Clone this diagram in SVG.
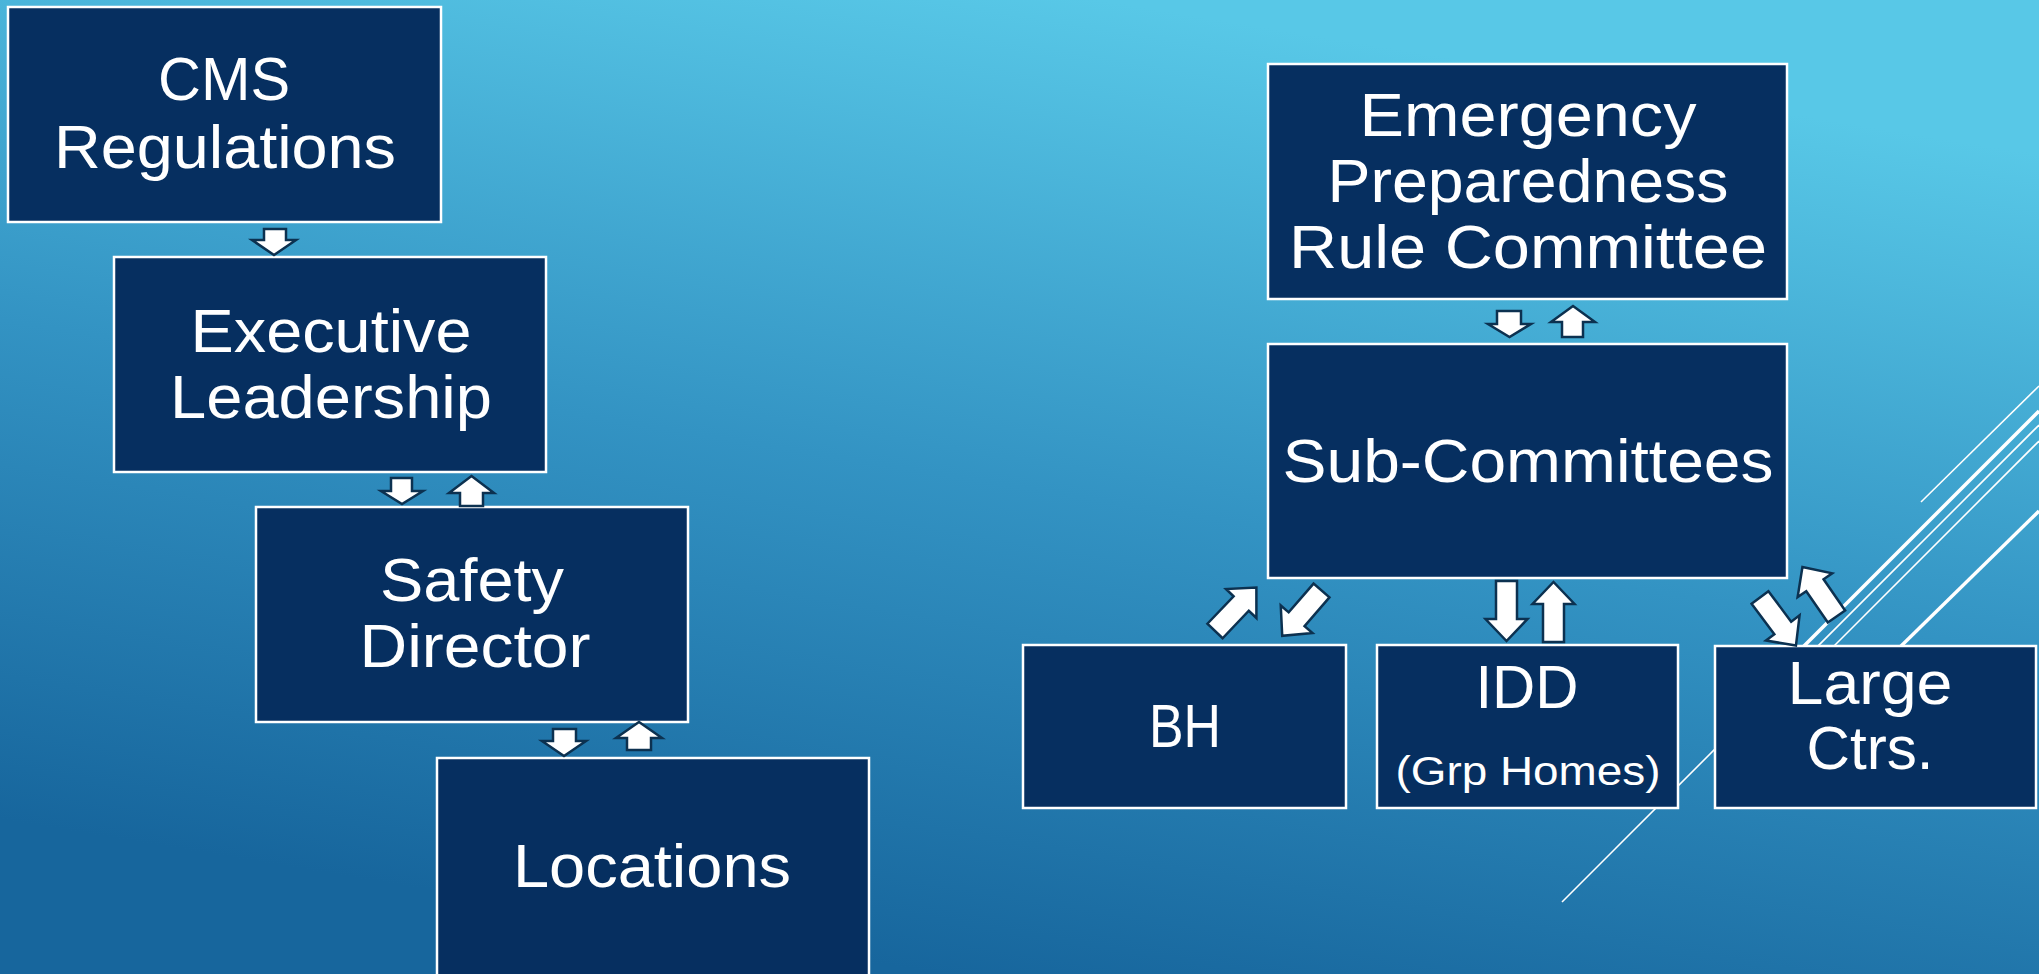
<svg xmlns="http://www.w3.org/2000/svg" xmlns:xlink="http://www.w3.org/1999/xlink" width="2039" height="974" viewBox="0 0 2039 974">
  <defs>
    <linearGradient id="bg" gradientUnits="userSpaceOnUse" x1="1100" y1="0" x2="940" y2="974">
      <stop offset="0" stop-color="#58C8E7"/>
      <stop offset="0.5" stop-color="#3393C3"/>
      <stop offset="1" stop-color="#17669D"/>
    </linearGradient>
    <path id="bigArrow" d="M0,-10.5 H38 V-21 L60,0 L38,21 V10.5 H0 Z"/>
  </defs>
  <style>
    .box { fill: #062F60; stroke: #FFFFFF; stroke-width: 2.5; }
    .lbl { fill: #FFFFFF; font-family: "Liberation Sans", Arial, sans-serif; font-size: 62px; text-anchor: middle; }
    .sm { font-size: 40px; }
    .arr { fill: #FFFFFF; stroke: #0C3150; stroke-width: 2.5; stroke-linejoin: miter; }
    .deco { stroke: #FFFFFF; fill: none; }
    .thin { stroke-width: 1.6; }
    .thick { stroke-width: 3.5; }
  </style>
  <rect x="0" y="0" width="2039" height="974" fill="url(#bg)"/>

  <g id="decoration">
    <line class="deco thin" x1="1921" y1="502" x2="2039" y2="386"/>
    <line class="deco thick" x1="1760" y1="690" x2="2039" y2="411"/>
    <line class="deco thin" x1="1562" y1="902" x2="2039" y2="425"/>
    <line class="deco thin" x1="1800" y1="680" x2="2039" y2="441"/>
    <line class="deco thick" x1="1850" y1="696" x2="2039" y2="511"/>
  </g>

  <g id="node-cms">
    <rect class="box" x="8" y="7" width="433" height="215"/>
    <text class="lbl" x="224" y="100" textLength="132" lengthAdjust="spacingAndGlyphs">CMS</text>
    <text class="lbl" x="225" y="168" textLength="342" lengthAdjust="spacingAndGlyphs">Regulations</text>
  </g>
  <g id="node-executive">
    <rect class="box" x="114" y="257" width="432" height="215"/>
    <text class="lbl" x="331" y="352" textLength="281" lengthAdjust="spacingAndGlyphs">Executive</text>
    <text class="lbl" x="331" y="418" textLength="322" lengthAdjust="spacingAndGlyphs">Leadership</text>
  </g>
  <g id="node-safety">
    <rect class="box" x="256" y="507" width="432" height="215"/>
    <text class="lbl" x="472" y="601" textLength="184" lengthAdjust="spacingAndGlyphs">Safety</text>
    <text class="lbl" x="475" y="667" textLength="231" lengthAdjust="spacingAndGlyphs">Director</text>
  </g>
  <g id="node-locations">
    <rect class="box" x="437" y="758" width="432" height="222"/>
    <text class="lbl" x="652" y="887" textLength="278" lengthAdjust="spacingAndGlyphs">Locations</text>
  </g>

  <g id="node-ep">
    <rect class="box" x="1268" y="64" width="519" height="235"/>
    <text class="lbl" x="1528" y="136" textLength="337" lengthAdjust="spacingAndGlyphs">Emergency</text>
    <text class="lbl" x="1528" y="202" textLength="401" lengthAdjust="spacingAndGlyphs">Preparedness</text>
    <text class="lbl" x="1528" y="268" textLength="478" lengthAdjust="spacingAndGlyphs">Rule Committee</text>
  </g>
  <g id="node-sub">
    <rect class="box" x="1268" y="344" width="519" height="234"/>
    <text class="lbl" x="1528" y="482" textLength="491" lengthAdjust="spacingAndGlyphs">Sub-Committees</text>
  </g>
  <g id="node-bh">
    <rect class="box" x="1023" y="645" width="323" height="163"/>
    <text class="lbl" x="1185" y="747" textLength="72" lengthAdjust="spacingAndGlyphs">BH</text>
  </g>
  <g id="node-idd">
    <rect class="box" x="1377" y="645" width="301" height="163"/>
    <text class="lbl" x="1527" y="708" textLength="103" lengthAdjust="spacingAndGlyphs">IDD</text>
    <text class="lbl sm" x="1528" y="785" textLength="265" lengthAdjust="spacingAndGlyphs">(Grp Homes)</text>
  </g>
  <g id="node-large">
    <rect class="box" x="1715" y="646" width="321" height="162"/>
    <text class="lbl" x="1870" y="704" textLength="165" lengthAdjust="spacingAndGlyphs">Large</text>
    <text class="lbl" x="1870" y="769" textLength="127" lengthAdjust="spacingAndGlyphs">Ctrs.</text>
  </g>

  <g id="connectors">
    <polygon class="arr" points="264,229 286,229 286,240 296,240 274,255 252,240 264,240"/>
    <polygon class="arr" points="391,478 412,478 412,491 423,491 402,504 381,491 391,491"/>
    <polygon class="arr" points="471.5,476 494,493 483,493 483,506 460,506 460,493 449,493"/>
    <polygon class="arr" points="553,729 576,729 576,741 586,741 564,756 542,741 553,741"/>
    <polygon class="arr" points="639,722 662,738 651,738 651,750 627,750 627,738 616,738"/>
    <polygon class="arr" points="1497,311 1521,311 1521,324 1531,324 1509.5,337 1488,324 1497,324"/>
    <polygon class="arr" points="1573,306 1595,322 1583,322 1583,337 1562,337 1562,322 1551,322"/>
    <use class="arr" xlink:href="#bigArrow" href="#bigArrow" transform="translate(1215,631) rotate(-46.4)"/>
    <use class="arr" xlink:href="#bigArrow" href="#bigArrow" transform="translate(1321.5,590.5) rotate(130.9)"/>
    <use class="arr" xlink:href="#bigArrow" href="#bigArrow" transform="translate(1506.5,581) rotate(90)"/>
    <use class="arr" xlink:href="#bigArrow" href="#bigArrow" transform="translate(1553.5,642) rotate(-90)"/>
    <use class="arr" xlink:href="#bigArrow" href="#bigArrow" transform="translate(1760,597.5) rotate(53.2)"/>
    <use class="arr" xlink:href="#bigArrow" href="#bigArrow" transform="translate(1836.5,616.5) rotate(-124.6)"/>
  </g>
</svg>
